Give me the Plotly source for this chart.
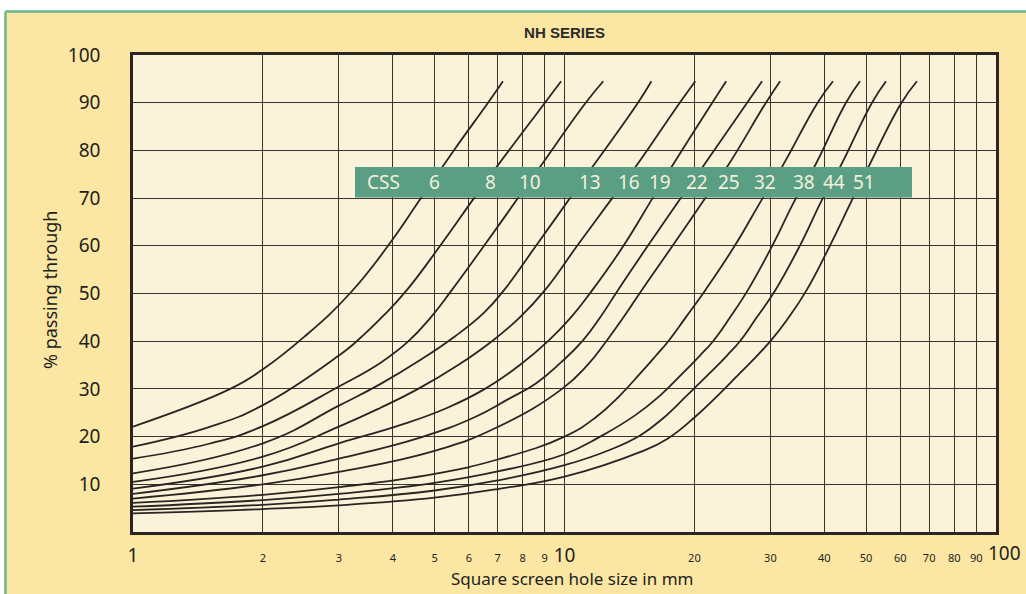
import plotly.graph_objects as go

# ---------------- data ----------------
css_names = ["6", "8", "10", "13", "16", "19", "22", "25", "32", "38", "44", "51"]

c6_x = [1, 1.68, 2, 2.5, 3.18, 3.9, 4.65, 5.54, 6.65, 7.2]
c6_y = [22.1, 30, 34.1, 41, 50, 60, 70, 80, 90, 94.5]

c8_x = [1, 1.5, 2, 3, 3.3, 3.82, 4.31, 5.15, 6.17, 6.96, 9.01, 9.82]
c8_y = [17.9, 22, 26.6, 37, 40, 45.5, 50.7, 60, 70, 76.5, 90, 94.5]

c10_x = [1, 1.5, 2, 3, 3.75, 4.35, 4.9, 5.48, 6.51, 7.8, 8.77, 11.2, 12.3]
c10_y = [15.4, 18.5, 22.2, 30.5, 35.5, 40, 45, 50.7, 60, 70, 76.5, 90, 94.5]

c13_x = [1, 2, 3, 3.74, 4.62, 5.57, 6.51, 7.24, 8.59, 10.3, 11.6, 14.8, 15.9]
c13_y = [12.3, 18.6, 26.5, 31, 36, 41, 46, 50.7, 60, 70, 76.5, 90, 94.5]

c16_x = [1, 2, 3, 3.74, 4.58, 5.67, 6.79, 7.88, 9.01, 10.7, 12.9, 14.6, 18.5, 20.1]
c16_y = [10.5, 15.8, 22.1, 26, 30, 35, 40, 45, 50.7, 60, 70, 76.5, 90, 94.5]

c19_x = [1, 2, 3, 4.16, 5.34, 6.54, 7.88, 9.16, 10.35, 11.6, 13.7, 16.0, 17.7, 22.0, 23.7]
c19_y = [9.1, 13.7, 18.6, 22.4, 26, 30, 35, 40, 45, 50.7, 60, 70, 76.5, 90, 94.5]

c22_x = [1, 2, 3, 4.63, 6.17, 7.39, 8.6, 9.8, 11.0, 12.1, 13.3, 15.6, 18.6, 20.9, 26.5, 28.7]
c22_y = [8.0, 11.9, 15.4, 19.8, 24, 27.8, 31.2, 35.5, 40, 45, 50.7, 60, 70, 76.5, 90, 94.5]

c25_x = [1, 2, 3, 5, 7, 9.87, 11.3, 12.5, 13.7, 15.1, 17.8, 21.2, 23.8, 29.3, 31.6]
c25_y = [7.0, 10.0, 12.6, 17.0, 22.0, 30, 35, 40, 45, 50.7, 60, 70, 76.5, 90, 94.5]

c32_x = [1, 2, 3, 5, 7, 10, 11.8, 13.4, 15.0, 16.3, 17.4, 19.1, 21.2, 24.8, 28.8, 31.9, 38.6, 41.9]
c32_y = [6.1, 7.8, 9.4, 12.2, 15.2, 20, 24, 28.5, 33.3, 37, 40, 45, 50.7, 60, 70, 76.5, 90, 94.5]

c38_x = [1, 2, 3, 5, 7, 10, 12.1, 14.6, 16.6, 18.8, 20.6, 22.1, 24.2, 26.6, 30.3, 34.4, 37.9, 44.9, 48.4]
c38_y = [5.3, 6.7, 8.0, 10.3, 12.7, 16.3, 20, 24.5, 28.5, 33.3, 37, 40, 45, 50.7, 60, 70, 76.5, 90, 94.5]

c44_x = [1, 2, 3, 5, 7, 10, 12.8, 15.0, 16.9, 19.3, 21.7, 23.8, 25.5, 27.9, 30.8, 35.1, 39.7, 43.5, 51.6, 55.6]
c44_y = [4.6, 5.7, 6.8, 8.7, 10.8, 14, 17.3, 20.3, 23.8, 28.8, 33.3, 37, 40, 45, 50.7, 60, 70, 76.5, 90, 94.5]

c51_x = [1, 2, 3, 5, 7, 10, 15, 17.3, 20, 25.5, 30, 33.1, 36.4, 41.2, 46.6, 50.6, 60.4, 65.6]
c51_y = [3.9, 4.8, 5.6, 7.2, 9.0, 11.6, 16.8, 19.5, 24, 33.3, 40, 45, 50.7, 60, 70, 76.5, 90, 94.5]

x_tick_vals = [1, 2, 3, 4, 5, 6, 7, 8, 9, 10, 20, 30, 40, 50, 60, 70, 80, 90, 100]
x_tick_major = [1, 10, 100]
y_tick_vals = [10, 20, 30, 40, 50, 60, 70, 80, 90, 100]

curves = [
    (c6_x, c6_y), (c8_x, c8_y), (c10_x, c10_y), (c13_x, c13_y),
    (c16_x, c16_y), (c19_x, c19_y), (c22_x, c22_y), (c25_x, c25_y),
    (c32_x, c32_y), (c38_x, c38_y), (c44_x, c44_y), (c51_x, c51_y),
]

# ---------------- styling / layout ----------------
W, H = 1026, 594
ML, MR, MT, MB = 133, 30, 55, 62
PW, PH = W - ML - MR, H - MT - MB


def px_x(p):
    return (p - ML) / PW


def px_y(p):
    return (H - MB - p) / PH


PAPER = "#fbe6a3"
PLOT = "#fbf3d9"
INK = "#2a2522"
GRID = "#3a3431"
GREEN = "#5a9f84"
BORDER_GREEN = "#6db68c"
TEXT = "#231f1c"
SANS = "Noto Sans, Open Sans, sans-serif"

fig = go.Figure()
for (xs, ys), name in zip(curves, css_names):
    fig.add_trace(go.Scatter(
        x=xs, y=ys, mode="lines", name="CSS " + name,
        line=dict(color=INK, width=1.8, shape="spline", smoothing=1.3),
        hoverinfo="skip", showlegend=False,
    ))

# the last major label (100) sits right of its grid line in the reference,
# so it is drawn as an annotation below instead of a tick label
tick_text = []
for v in x_tick_vals:
    if v == x_tick_vals[-1]:
        tick_text.append("")
    elif v in x_tick_major:
        tick_text.append('<span style="font-size:19px">%d</span>' % v)
    else:
        tick_text.append(str(v))

fig.update_layout(
    width=W, height=H,
    margin=dict(l=ML, r=MR, t=MT, b=MB, pad=0),
    paper_bgcolor=PAPER, plot_bgcolor=PLOT,
    showlegend=False,
    title=dict(
        text="<b>NH SERIES</b>", x=0.5, xref="paper", xanchor="center",
        y=1 - 33 / H, yref="container", yanchor="middle",
        font=dict(family="Liberation Sans, Arial, sans-serif", size=15, color="#2b2b2b"),
    ),
    font=dict(family=SANS, color=TEXT),
)

fig.update_xaxes(
    type="log", range=[0, 2],
    tickmode="array", tickvals=x_tick_vals, ticktext=tick_text, tickangle=0,
    tickfont=dict(family=SANS, size=11, color=TEXT),
    ticks="", ticklabelstandoff=14,
    showgrid=True, gridcolor=GRID, gridwidth=1.4,
    showline=True, linecolor=INK, linewidth=2.6, mirror=True,
    zeroline=False,
)
fig.update_yaxes(
    range=[0, 100],
    tickmode="array", tickvals=y_tick_vals,
    tickfont=dict(family=SANS, size=19, color=TEXT),
    ticks="", ticklabelstandoff=26,
    showgrid=True, gridcolor=GRID, gridwidth=1.4,
    showline=True, linecolor=INK, linewidth=2.6, mirror=True,
    zeroline=False,
)

shapes = []
# legend band (CSS labels) drawn above curves
shapes.append(dict(type="rect", xref="paper", yref="y",
                   x0=px_x(355), x1=px_x(912), y0=70.1, y1=76.5,
                   fillcolor=GREEN, line=dict(width=0), layer="above"))
# outer white strips and green frame
shapes.append(dict(type="rect", xref="paper", yref="paper",
                   x0=px_x(-5), x1=px_x(W + 5), y0=px_y(11), y1=px_y(-5),
                   fillcolor="white", line=dict(width=0), layer="above"))
shapes.append(dict(type="rect", xref="paper", yref="paper",
                   x0=px_x(-5), x1=px_x(5), y0=px_y(H + 5), y1=px_y(-5),
                   fillcolor="white", line=dict(width=0), layer="above"))
shapes.append(dict(type="line", xref="paper", yref="paper",
                   x0=px_x(5.5), x1=px_x(W + 5), y0=px_y(11.5), y1=px_y(11.5),
                   line=dict(color=BORDER_GREEN, width=2.5), layer="above"))
shapes.append(dict(type="line", xref="paper", yref="paper",
                   x0=px_x(5.5), x1=px_x(5.5), y0=px_y(11.5), y1=px_y(H + 5),
                   line=dict(color=BORDER_GREEN, width=2.5), layer="above"))
fig.update_layout(shapes=shapes)

annotations = []
band_label_px = [383, 434, 490, 530, 590, 629, 660, 697, 729, 765, 804, 834, 864]
band_texts = ["CSS"] + css_names
for t, p in zip(band_texts, band_label_px):
    annotations.append(dict(
        text=t, xref="paper", yref="y", x=px_x(p), y=73.3,
        xanchor="center", yanchor="middle", showarrow=False,
        font=dict(family=SANS, size=19, color="#f3f0dc"),
    ))
annotations.append(dict(
    text=str(x_tick_vals[-1]), xref="paper", yref="paper",
    x=px_x(1004), y=px_y(553), showarrow=False,
    xanchor="center", yanchor="middle",
    font=dict(family=SANS, size=19, color=TEXT),
))
annotations.append(dict(
    text="% passing through", xref="paper", yref="paper",
    x=px_x(50), y=px_y(290), textangle=-90, showarrow=False,
    xanchor="center", yanchor="middle",
    font=dict(family=SANS, size=18, color=TEXT),
))
annotations.append(dict(
    text="Square screen hole size in mm", xref="paper", yref="paper",
    x=px_x(572), y=px_y(578), showarrow=False,
    xanchor="center", yanchor="middle",
    font=dict(family=SANS, size=17, color=TEXT),
))
fig.update_layout(annotations=annotations)

fig.write_html("out.html", config={"displayModeBar": False},
               post_script="document.body.style.margin='0px';")
